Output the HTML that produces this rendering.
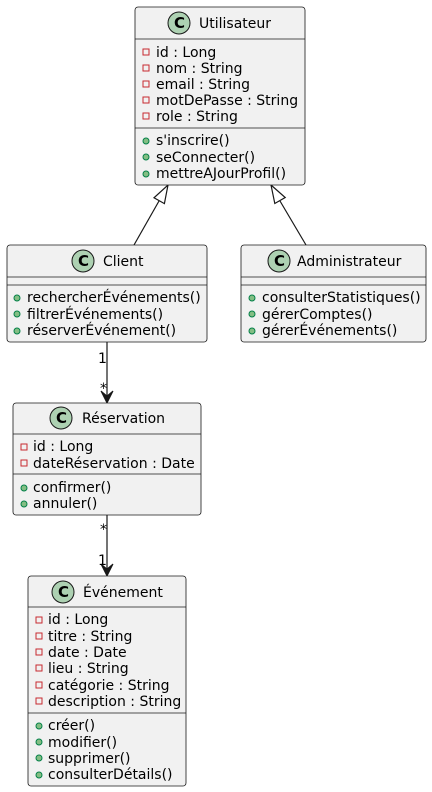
<!DOCTYPE html>
<html><head><meta charset="utf-8"><style>
html,body{margin:0;padding:0;background:#fff}
svg{display:block}
text{font-family:"DejaVu Sans","Liberation Sans",sans-serif;font-size:14px;fill:#000}
.b{fill:#F1F1F1;stroke:#181818;stroke-width:0.8}
.l{stroke:#181818;stroke-width:0.8}
.c{fill:#ADD1B2;stroke:#181818;stroke-width:1}
.pr{fill:none;stroke:#C82930;stroke-width:1}
.pu{fill:#84BE84;stroke:#038048;stroke-width:1}
.e{stroke:#181818;stroke-width:1.2;fill:none}
.ct{font-weight:bold;font-size:15px}
</style></head><body>
<svg width="432" height="792" viewBox="0 0 432 792" xmlns="http://www.w3.org/2000/svg">
<line class="e" x1="159" y1="201" x2="134" y2="245"/>
<polygon points="168,185 164.4,203.6 154,197.8" fill="#fff" stroke="#181818" stroke-width="1.2"/>
<line class="e" x1="280" y1="201" x2="306" y2="245"/>
<polygon points="271,185 285.2,197.5 274.8,203.5" fill="#fff" stroke="#181818" stroke-width="1.2"/>
<line class="e" x1="107" y1="342" x2="107" y2="398"/>
<polygon points="101,391 107,403 113,391 107,396" fill="#181818" stroke="#181818" stroke-width="1"/>
<line class="e" x1="107" y1="515" x2="107" y2="571"/>
<polygon points="101,564 107,576 113,564 107,569" fill="#181818" stroke="#181818" stroke-width="1"/>
<text x="98" y="363">1</text><text x="100" y="393">*</text>
<text x="100" y="534">*</text><text x="98" y="565">1</text>

<rect class="b" x="135" y="7" width="170" height="178" rx="3"/>
<line class="l" x1="135" y1="39" x2="305" y2="39"/>
<line class="l" x1="135" y1="128" x2="305" y2="128"/>
<circle class="c" cx="179" cy="23" r="11"/><text class="ct" x="174" y="28">C</text>
<text x="199" y="28">Utilisateur</text>
<g><rect class="pr" x="143" y="49" width="6" height="6"/><text x="156" y="57">id : Long</text>
<rect class="pr" x="143" y="65" width="6" height="6"/><text x="156" y="73">nom : String</text>
<rect class="pr" x="143" y="81" width="6" height="6"/><text x="156" y="89">email : String</text>
<rect class="pr" x="143" y="97" width="6" height="6"/><text x="156" y="105">motDePasse : String</text>
<rect class="pr" x="143" y="113" width="6" height="6"/><text x="156" y="121">role : String</text>
<circle class="pu" cx="146" cy="141" r="3"/><text x="156" y="145">s'inscrire()</text>
<circle class="pu" cx="146" cy="157" r="3"/><text x="156" y="162">seConnecter()</text>
<circle class="pu" cx="146" cy="174" r="3"/><text x="156" y="178">mettreAJourProfil()</text></g>

<rect class="b" x="7" y="245" width="200" height="97" rx="3"/>
<line class="l" x1="7" y1="277" x2="207" y2="277"/>
<line class="l" x1="7" y1="285" x2="207" y2="285"/>
<circle class="c" cx="83" cy="261" r="11"/><text class="ct" x="78" y="266">C</text>
<text x="103" y="266">Client</text>
<circle class="pu" cx="17" cy="298" r="3"/><text x="27" y="302">rechercherÉvénements()</text>
<circle class="pu" cx="17" cy="314" r="3"/><text x="27" y="319">filtrerÉvénements()</text>
<circle class="pu" cx="17" cy="331" r="3"/><text x="27" y="335">réserverÉvénement()</text>

<rect class="b" x="241" y="245" width="185" height="97" rx="3"/>
<line class="l" x1="241" y1="277" x2="426" y2="277"/>
<line class="l" x1="241" y1="285" x2="426" y2="285"/>
<circle class="c" cx="279" cy="261" r="11"/><text class="ct" x="274" y="266">C</text>
<text x="297" y="266">Administrateur</text>
<circle class="pu" cx="252" cy="298" r="3"/><text x="262" y="302">consulterStatistiques()</text>
<circle class="pu" cx="252" cy="314" r="3"/><text x="262" y="319">gérerComptes()</text>
<circle class="pu" cx="252" cy="331" r="3"/><text x="262" y="335">gérerÉvénements()</text>

<rect class="b" x="13" y="403" width="188" height="112" rx="3"/>
<line class="l" x1="13" y1="434" x2="201" y2="434"/>
<line class="l" x1="13" y1="474" x2="201" y2="474"/>
<circle class="c" cx="61" cy="418" r="11"/><text class="ct" x="56" y="423">C</text>
<text x="82" y="423">Réservation</text>
<rect class="pr" x="21" y="444" width="6" height="6"/><text x="33" y="451">id : Long</text>
<rect class="pr" x="21" y="460" width="6" height="6"/><text x="33" y="468">dateRéservation : Date</text>
<circle class="pu" cx="24" cy="488" r="3"/><text x="33" y="492">confirmer()</text>
<circle class="pu" cx="24" cy="504" r="3"/><text x="33" y="508">annuler()</text>

<rect class="b" x="28" y="576" width="158" height="210" rx="3"/>
<line class="l" x1="28" y1="607" x2="186" y2="607"/>
<line class="l" x1="28" y1="713" x2="186" y2="713"/>
<circle class="c" cx="63" cy="592" r="11"/><text class="ct" x="58" y="597">C</text>
<text x="83" y="597">Événement</text>
<rect class="pr" x="36" y="617" width="6" height="6"/><text x="48" y="624">id : Long</text>
<rect class="pr" x="36" y="633" width="6" height="6"/><text x="48" y="641">titre : String</text>
<rect class="pr" x="36" y="649" width="6" height="6"/><text x="48" y="657">date : Date</text>
<rect class="pr" x="36" y="665" width="6" height="6"/><text x="48" y="673">lieu : String</text>
<rect class="pr" x="36" y="682" width="6" height="6"/><text x="48" y="690">catégorie : String</text>
<rect class="pr" x="36" y="698" width="6" height="6"/><text x="48" y="706">description : String</text>
<circle class="pu" cx="39" cy="726" r="3"/><text x="48" y="730">créer()</text>
<circle class="pu" cx="39" cy="742" r="3"/><text x="48" y="747">modifier()</text>
<circle class="pu" cx="39" cy="758" r="3"/><text x="48" y="763">supprimer()</text>
<circle class="pu" cx="39" cy="775" r="3"/><text x="48" y="779">consulterDétails()</text>
</svg>
</body></html>
